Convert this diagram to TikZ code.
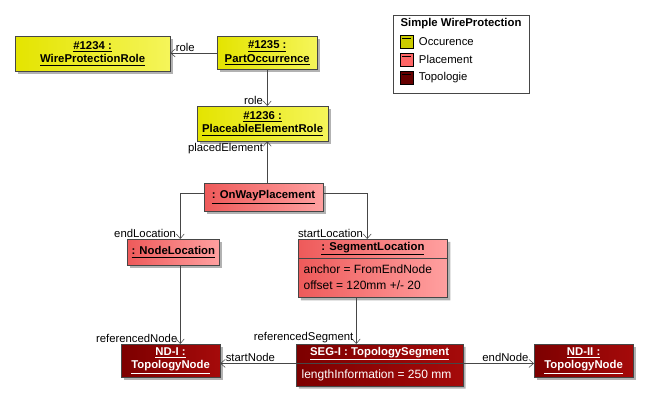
\documentclass[tikz,border=0pt]{standalone}
\usepackage{fontspec}
\setmainfont{Liberation Sans}
\usepackage{tikz}
\usetikzlibrary{positioning,shadows,shapes.multipart,arrows.meta}

\definecolor{occleft}{RGB}{228,228,0}
\definecolor{occright}{RGB}{245,245,90}
\definecolor{plcleft}{RGB}{238,90,90}
\definecolor{plcright}{RGB}{255,160,160}
\definecolor{topleft}{RGB}{125,0,0}
\definecolor{topright}{RGB}{165,10,10}
\definecolor{occkey}{RGB}{204,204,0}
\definecolor{plckey}{RGB}{255,102,102}
\definecolor{topkey}{RGB}{102,0,0}
\definecolor{edge}{RGB}{70,70,70}

\newcommand{\attrlines}[1]{{\mdseries\fontsize{9}{12.5}\selectfont\begin{tabular}{@{}l@{}}#1\end{tabular}}}

\tikzset{
  objbox/.style={draw=edge, line width=0.4pt, align=center, inner sep=2pt,
    font=\fontsize{8.5}{10}\selectfont\bfseries,
    drop shadow={shadow xshift=2pt, shadow yshift=-2pt, fill=black!30, opacity=1}},
  occbox/.style={objbox, left color=occleft, right color=occright, text=black},
  placebox/.style={objbox, left color=plcleft, right color=plcright, text=black},
  topobox/.style={objbox, left color=topleft, right color=topright, text=white},
  splitbox/.style={rectangle split, rectangle split parts=2, inner ysep=2pt, inner xsep=4pt,
    rectangle split part align={center,left}},
  conn/.style={draw=edge, line width=0.4pt, -{Straight Barb[length=3.5pt,width=6pt]}},
  lbl/.style={font=\fontsize{8.5}{10}\selectfont, inner sep=1pt, text=black},
  keybox/.style={draw=black, line width=0.5pt, minimum size=9.5pt, inner sep=0pt},
}

\begin{document}
\begin{tikzpicture}[x=0.75pt,y=-0.75pt]
\useasboundingbox (0,0) rectangle (648,404);

%Legend
\node [draw=edge, line width=0.5pt, fill=white, anchor=north west, minimum width=102pt, minimum height=58.5pt] (legend) at (393,15) {};
\node [lbl, font=\fontsize{8.5}{10}\selectfont\bfseries, anchor=west] (legtitle) at (399,24) {Simple WireProtection};
\node [keybox, fill=occkey, anchor=north west] (keyocc) at (400,35) {};
\node [keybox, fill=plckey, anchor=north west] (keyplc) at (400,53) {};
\node [keybox, fill=topkey, anchor=north west] (keytop) at (400,71) {};
\foreach \k in {keyocc,keyplc,keytop}
  \draw [line width=0.4pt] ([xshift=1.5pt,yshift=-2.5pt]\k.north west) -- ([xshift=-1.5pt,yshift=-2.5pt]\k.north east);
\node [lbl, right=3pt of keyocc] (legocc) {Occurence};
\node [lbl, right=3pt of keyplc] (legplc) {Placement};
\node [lbl, right=3pt of keytop] (legtop) {Topologie};

%Occurrence objects
\node [occbox, anchor=north west, minimum width=116pt, minimum height=26pt] (wpr) at (15,36) {\underline{\#1234 :}\\\underline{WireProtectionRole}};
\node [occbox, anchor=north west, minimum width=75pt, minimum height=25pt] (poc) at (217,36) {\underline{\#1235 :}\\\underline{PartOccurrence}};
\node [occbox, anchor=north west, minimum width=98pt, minimum height=26pt] (per) at (197,106) {\underline{\#1236 :}\\\underline{PlaceableElementRole}};

%Placement objects
\node [placebox, anchor=north west, minimum width=89pt, minimum height=21pt] (owp) at (204,183) {\underline{: OnWayPlacement}};
\node [placebox, anchor=north west, minimum width=69pt, minimum height=19.5pt] (nloc) at (127,239) {\underline{: NodeLocation}};
\node [placebox, splitbox, anchor=north west, minimum width=112pt] (sloc) at (298,239)
  {\underline{: SegmentLocation}\nodepart{two}\attrlines{anchor = FromEndNode\\offset = 120mm +/- 20}};

%Topology objects
\node [topobox, anchor=north west, minimum width=74pt, minimum height=25pt] (nd1) at (121,344) {\underline{ND-I :}\\\underline{TopologyNode}};
\node [topobox, splitbox, anchor=north west, minimum width=125pt] (seg) at (296,344)
  {\underline{SEG-I : TopologySegment}\nodepart{two}\attrlines{lengthInformation = 250 mm}};
\node [topobox, anchor=north west, minimum width=74pt, minimum height=25pt] (nd2) at (534,344) {\underline{ND-II :}\\\underline{TopologyNode}};

%Links
\draw [conn] (poc.west) -- (poc.west -| wpr.east) node [lbl, pos=1, anchor=south west, xshift=3pt] (lrole1) {role};
\draw [conn] (poc.south) -- (poc.south |- per.north) node [lbl, pos=1, anchor=south east, xshift=-2pt] (lrole2) {role};
\draw [conn] (owp.north -| poc.south) -- (per.south -| poc.south) node [lbl, pos=1, anchor=north east, xshift=-2pt] (lplaced) {placedElement};
\draw [conn] ([yshift=3pt]owp.west) -| ([xshift=5.25pt]nloc.north) node [lbl, pos=1, anchor=south east, xshift=-2pt] (lend) {endLocation};
\draw [conn] ([yshift=3pt]owp.east) -| ([xshift=-4.3pt]sloc.north) node [lbl, pos=1, anchor=south east, xshift=-2pt] (lstart) {startLocation};
\draw [conn] ([xshift=5.25pt]nloc.south) -- ([xshift=5.25pt]nloc.south |- nd1.north) node [lbl, pos=1, anchor=south east, xshift=-1pt] (lrefnode) {referencedNode};
\draw [conn] ([xshift=-12.5pt]sloc.south) -- ([xshift=-12.5pt]sloc.south |- seg.north) node [lbl, pos=1, anchor=south east, xshift=-1pt] (lrefseg) {referencedSegment};
\draw [conn] (seg.text split west) -- (seg.text split west -| nd1.east) node [lbl, pos=1, anchor=south west, xshift=3pt] (lsnode) {startNode};
\draw [conn] (seg.text split east) -- (seg.text split east -| nd2.west) node [lbl, pos=1, anchor=south east, xshift=-3pt] (lenode) {endNode};

\end{tikzpicture}
\end{document}
